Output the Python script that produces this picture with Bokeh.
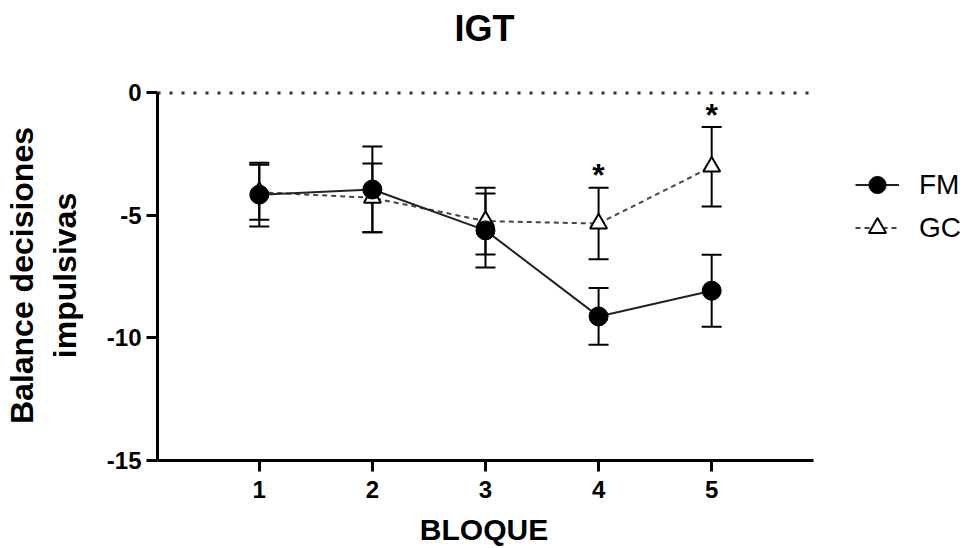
from bokeh.plotting import figure
from bokeh.models import (ColumnDataSource, Whisker, TeeHead, Legend,
                          LegendItem, Range1d, FixedTicker, Title)
from bokeh.core.properties import value
from bokeh.embed import file_html
from bokeh.resources import INLINE

# ---- data ----
bloque = [1, 2, 3, 4, 5]
fm_mean = [-4.15, -3.94, -5.61, -9.12, -8.07]
fm_sem = [1.30, 1.75, 1.51, 1.16, 1.47]
gc_mean = [-4.05, -4.28, -5.23, -5.33, -3.01]
gc_sem = [1.12, 1.40, 1.36, 1.46, 1.62]
sig_x = [4, 5]
sig_y = [-3.26, -0.81]
sig_txt = ["*", "*"]
y_ticks = [0, -5, -10, -15]
y_tick_labels = ["0", "-5", "-10", "-15"]

# axis extent (the plotting frame is wider to host the legend)
X_LO, X_HI = 0.1, 5.9
Y_LO, Y_HI = -15, 0

FONT = "Liberation Sans"
NBSP = "\u00a0"

fm = ColumnDataSource(dict(x=bloque, y=fm_mean,
                           lo=[m - s for m, s in zip(fm_mean, fm_sem)],
                           hi=[m + s for m, s in zip(fm_mean, fm_sem)]))
gc = ColumnDataSource(dict(x=bloque, y=gc_mean,
                           lo=[m - s for m, s in zip(gc_mean, gc_sem)],
                           hi=[m + s for m, s in zip(gc_mean, gc_sem)]))
sig = ColumnDataSource(dict(x=sig_x, y=sig_y, t=sig_txt))
zero = ColumnDataSource(dict(x=[X_LO, X_HI], y=[0, 0]))

p = figure(width=962, height=548, output_backend="svg", toolbar_location=None,
           x_range=Range1d(X_LO, 7.2), y_range=Range1d(Y_LO, 0.1),
           min_border_left=155, min_border_right=2, min_border_top=90,
           min_border_bottom=88)

# spacer (closest to the frame) then the real title above it
p.add_layout(Title(text=" ", text_font_size="10px", standoff=24), "above")
p.add_layout(Title(text="IGT", align="left", offset=297, text_font=FONT,
                   text_font_size="36px", text_font_style="bold",
                   text_color="black", standoff=10), "above")

p.outline_line_color = None
p.grid.visible = False
p.background_fill_color = "white"
p.border_fill_color = "white"

for ax in (p.xaxis[0], p.yaxis[0]):
    ax.axis_line_width = 3
    ax.axis_line_color = "black"
    ax.major_tick_line_width = 3
    ax.major_tick_line_color = "black"
    ax.major_tick_out = 11
    ax.major_tick_in = 0
    ax.minor_tick_line_color = None
    ax.major_label_text_font = FONT
    ax.major_label_text_font_size = "24px"
    ax.major_label_text_font_style = "bold"
    ax.major_label_text_color = "black"
    ax.axis_label_text_font = FONT
    ax.axis_label_text_font_style = "bold"
    ax.axis_label_text_color = "black"

p.xaxis.bounds = (X_LO, X_HI)
p.yaxis.bounds = (Y_LO, Y_HI)
p.xaxis.ticker = FixedTicker(ticks=bloque)
p.yaxis.ticker = FixedTicker(ticks=y_ticks)
p.yaxis.major_label_overrides = dict(zip(y_ticks, y_tick_labels))
# the frame is wider than the axis, so pad the label to centre it under the axis
p.xaxis.axis_label = "BLOQUE" + NBSP * 18
p.xaxis.axis_label_text_font_size = "30px"
p.xaxis.major_label_standoff = 9
p.xaxis.axis_label_standoff = 12
p.yaxis.axis_label = "Balance decisiones\nimpulsivas"
p.yaxis.axis_label_text_font_size = "32px"
p.yaxis.major_label_standoff = 5
p.yaxis.axis_label_standoff = 21

# dotted reference line at zero, across the axis extent
p.line("x", "y", source=zero, line_color="#333333", line_width=3,
       line_dash="3 9")

# error bars
for src in (gc, fm):
    p.add_layout(Whisker(source=src, base="x", upper="hi", lower="lo",
                         level="underlay", line_width=2, line_color="black",
                         upper_head=TeeHead(size=20, line_width=2, line_color="black"),
                         lower_head=TeeHead(size=20, line_width=2, line_color="black")))

gc_line = p.line("x", "y", source=gc, line_color="#444444", line_width=2,
                 line_dash="5 4")
gc_pts = p.scatter("x", "y", source=gc, marker="triangle", size=17,
                   fill_color="white", line_color="black", line_width=2)
fm_line = p.line("x", "y", source=fm, line_color="#222222", line_width=2)
fm_pts = p.scatter("x", "y", source=fm, marker="circle", size=19,
                   fill_color="black", line_color="black")

p.text("x", "y", text="t", source=sig, text_font=value(FONT),
       text_font_size="32px", text_font_style="bold", text_color="black",
       text_align="center", text_baseline="middle", y_offset=2)

legend = Legend(items=[LegendItem(label="FM", renderers=[fm_line, fm_pts]),
                       LegendItem(label="GC", renderers=[gc_line, gc_pts])],
                location=(698, 211), orientation="vertical",
                glyph_width=44, glyph_height=43, label_height=43,
                label_standoff=20, spacing=0, padding=0, margin=0,
                border_line_color=None, background_fill_alpha=0,
                label_text_font=FONT, label_text_font_size="28px",
                label_text_color="black")
p.add_layout(legend, "center")

open("out.html", "w").write(file_html(p, INLINE))
